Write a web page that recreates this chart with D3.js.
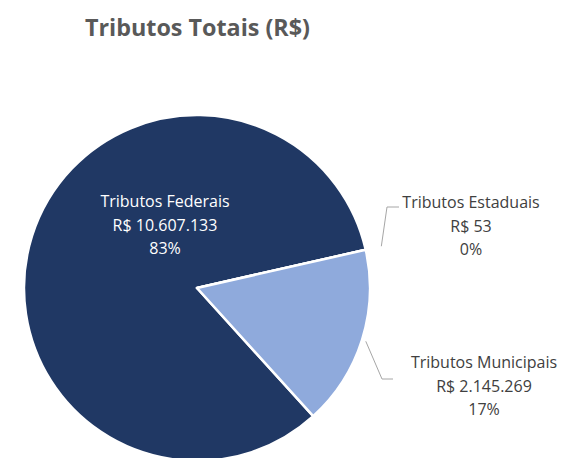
<!DOCTYPE html>
<html>
<head>
<meta charset="utf-8">
<script src="https://cdn.jsdelivr.net/npm/d3@7"></script>
<style>
  html, body { margin: 0; padding: 0; background: #fff; }
  svg { display: block; font-family: "Open Sans", "Noto Sans", sans-serif; }
</style>
</head>
<body>
<div id="chart"></div>
<script>
// Tributos totais, valores em R$
const categories = ['Tributos Federais', 'Tributos Estaduais', 'Tributos Municipais'];
const values = [10607133, 53, 2145269];
const colors = ['#203864', '#8faadc', '#8faadc'];

const width = 563;
const height = 458;
const cx = 197;
const cy = 288;
const radius = 173;
const startDeg = 137.8;

const svg = d3.select('#chart')
  .append('svg')
  .attr('width', width)
  .attr('height', height);

svg.append('text')
  .attr('x', 85)
  .attr('y', 36)
  .attr('fill', '#595959')
  .attr('font-size', 22.5)
  .attr('font-weight', 700)
  .attr('textLength', 225)
  .attr('lengthAdjust', 'spacingAndGlyphs')
  .text('Tributos Totais (R$)');

const data = categories.map((c, i) => ({ name: c, value: values[i], color: colors[i] }));
const total = d3.sum(values);

const pie = d3.pie()
  .sort(null)
  .value((d) => d.value)
  .startAngle((startDeg * Math.PI) / 180)
  .endAngle((startDeg * Math.PI) / 180 + 2 * Math.PI);

const arcs = pie(data);
const arc = d3.arc().innerRadius(0).outerRadius(radius);

const g = svg.append('g').attr('transform', `translate(${cx},${cy})`);

g.selectAll('path')
  .data(arcs)
  .join('path')
  .attr('d', arc)
  .attr('fill', (d) => d.data.color)
  .attr('stroke', '#fff')
  .attr('stroke-width', 2.5)
  .attr('stroke-linejoin', 'round');

const fmt = (v) => 'R$ ' + d3.format(',')(v).replace(/,/g, '.');
const pct = (v) => Math.round((v / total) * 100) + '%';

// label layout: centre x, first baseline y, text colour, leader line
const labelPos = [
  { x: 165, y: 207, color: '#ffffff', leader: null },
  { x: 471, y: 208, color: '#404040', leader: { r: 189, bend: [387, 207], end: [399, 207] } },
  { x: 484, y: 368, color: '#404040', leader: { r: 177, bend: [382, 379], end: [393, 379] } },
];

arcs.forEach((a, i) => {
  const p = labelPos[i];
  const t = svg.append('text')
    .attr('text-anchor', 'middle')
    .attr('fill', p.color)
    .attr('font-size', 16);
  [a.data.name, fmt(a.data.value), pct(a.data.value)].forEach((s, k) => {
    t.append('tspan').attr('x', p.x).attr('y', p.y + k * 23.5).text(s);
  });
  if (p.leader) {
    const mid = i === 1 ? a.startAngle : (a.startAngle + a.endAngle) / 2;
    const sx = cx + Math.sin(mid) * p.leader.r;
    const sy = cy - Math.cos(mid) * p.leader.r;
    svg.append('polyline')
      .attr('points', [[sx, sy], p.leader.bend, p.leader.end].map((q) => q.join(',')).join(' '))
      .attr('fill', 'none')
      .attr('stroke', '#a6a6a6')
      .attr('stroke-width', 1);
  }
});
</script>
</body>
</html>
